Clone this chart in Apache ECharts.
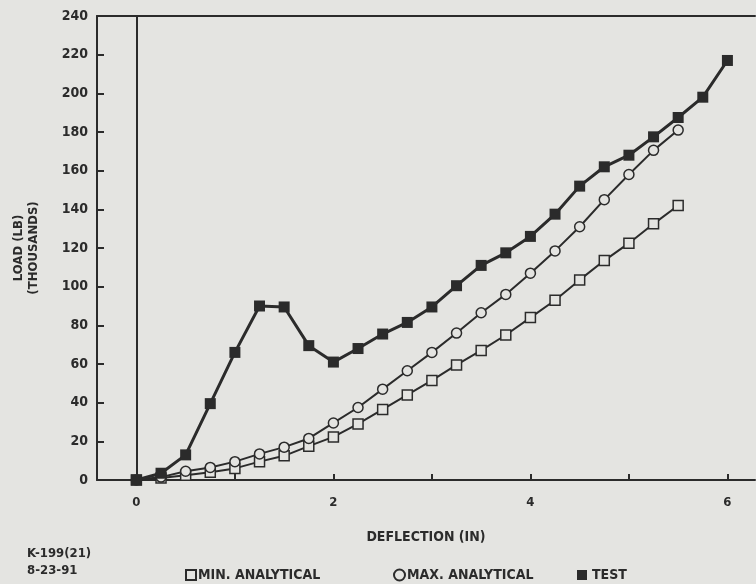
<!DOCTYPE html>
<html>
<head>
<meta charset="utf-8">
<script src="https://cdn.jsdelivr.net/npm/echarts@6/dist/echarts.min.js"></script>
<style>
  html, body { margin: 0; padding: 0; background: #e4e4e1; }
  #chart { width: 756px; height: 584px; }
</style>
</head>
<body>
<div id="chart"></div>
<script>
// deflection (in) and load (thousands of lb)
var deflection = [0, 0.25, 0.5, 0.75, 1, 1.25, 1.5, 1.75, 2, 2.25, 2.5, 2.75, 3,
                  3.25, 3.5, 3.75, 4, 4.25, 4.5, 4.75, 5, 5.25, 5.5, 5.75, 6];
var minAnalytical = [0, 1, 2.5, 4, 6, 9.5, 12.5, 17.5, 22.3, 29, 36.5, 44, 51.5,
                     59.5, 67, 75, 84, 93, 103.5, 113.5, 122.5, 132.5, 142];
var maxAnalytical = [0, 1.5, 4.5, 6.5, 9.5, 13.5, 17, 21.5, 29.5, 37.5, 47, 56.5, 66,
                     76, 86.5, 96, 107, 118.5, 131, 145, 158, 170.5, 181];
var test = [0, 3.5, 13, 39.5, 66, 90, 89.5, 69.5, 61, 68, 75.5, 81.5, 89.5,
            100.5, 111, 117.5, 126, 137.5, 152, 162, 168, 177.5, 187.5, 198, 217];
var xTicks = [0, 1, 2, 3, 4, 5, 6];
var xLabels = [0, 2, 4, 6];
var xMin = -0.4, xMax = 6.28;

var ink = '#2b2b2b';
var paper = '#e4e4e1';
var font = "'Liberation Sans Narrow', 'DejaVu Sans Condensed', sans-serif";

function pairs(ys) {
    return ys.map(function (y, i) { return [deflection[i], y]; });
}

var myChart = echarts.init(document.getElementById('chart'));
var option = {
    backgroundColor: paper,
    animation: false,
    textStyle: { fontFamily: font, fontWeight: 'bold', color: ink },
    grid: { left: 97, right: 1, top: 16, bottom: 104 },
    xAxis: [
        {
            type: 'value', min: xMin, max: xMax,
            name: 'DEFLECTION (IN)', nameLocation: 'middle', nameGap: 50,
            nameTextStyle: { fontFamily: font, fontWeight: 'bold', fontSize: 14, color: ink },
            axisLine: { onZero: false, lineStyle: { color: ink, width: 2 } },
            axisTick: { show: true, inside: true, length: 6, customValues: xTicks, lineStyle: { color: ink, width: 2 } },
            axisLabel: { customValues: xLabels, margin: 16, fontFamily: font, fontWeight: 'bold', fontSize: 13, color: ink },
            splitLine: { show: false }
        },
        {
            type: 'value', position: 'top', min: xMin, max: xMax,
            axisLine: { show: true, onZero: false, lineStyle: { color: ink, width: 2 } },
            axisTick: { show: false }, axisLabel: { show: false }, splitLine: { show: false }
        }
    ],
    yAxis: {
        type: 'value', min: 0, max: 240, interval: 20,
        name: 'LOAD (LB)\n(THOUSANDS)', nameLocation: 'middle', nameRotate: 90, nameGap: 56,
        nameTextStyle: { fontFamily: font, fontWeight: 'bold', fontSize: 13, lineHeight: 15, color: ink },
        axisLine: { show: true, onZero: false, lineStyle: { color: ink, width: 2 } },
        axisTick: { show: true, inside: true, length: 7, lineStyle: { color: ink, width: 2 } },
        axisLabel: { margin: 9, fontFamily: font, fontWeight: 'bold', fontSize: 14, color: ink },
        splitLine: { show: false }
    },
    legend: [
        {
            left: 180, top: 563, itemWidth: 10, itemHeight: 10,
            data: [{ name: 'MIN. ANALYTICAL', icon: 'rect' }],
            textStyle: { fontFamily: font, fontWeight: 'bold', fontSize: 14, color: ink, padding: [0, 0, 0, -3] }
        },
        {
            left: 388, top: 563, itemWidth: 11, itemHeight: 11,
            data: [{ name: 'MAX. ANALYTICAL', icon: 'circle' }],
            textStyle: { fontFamily: font, fontWeight: 'bold', fontSize: 14, color: ink, padding: [0, 0, 0, -3] }
        },
        {
            left: 572, top: 563, itemWidth: 10, itemHeight: 10,
            data: [{ name: 'TEST', icon: 'rect' }],
            textStyle: { fontFamily: font, fontWeight: 'bold', fontSize: 14, color: ink }
        }
    ],
    graphic: [
        { type: 'text', left: 27, top: 547, style: { text: 'K-199(21)', font: 'bold 13px ' + font, fill: ink } },
        { type: 'text', left: 27, top: 564, style: { text: '8-23-91', font: 'bold 13px ' + font, fill: ink } }
    ],
    series: [
        {
            name: 'MIN. ANALYTICAL', type: 'line', data: pairs(minAnalytical),
            symbol: 'rect', symbolSize: 10,
            lineStyle: { color: ink, width: 2 },
            itemStyle: { color: paper, borderColor: ink, borderWidth: 1.5 },
            markLine: {
                silent: true, symbol: 'none', label: { show: false },
                lineStyle: { color: ink, type: 'solid', width: 2 },
                data: [{ xAxis: 0 }]
            }
        },
        {
            name: 'MAX. ANALYTICAL', type: 'line', data: pairs(maxAnalytical),
            symbol: 'circle', symbolSize: 10,
            lineStyle: { color: ink, width: 2 },
            itemStyle: { color: paper, borderColor: ink, borderWidth: 1.5 }
        },
        {
            name: 'TEST', type: 'line', data: pairs(test),
            symbol: 'rect', symbolSize: 11,
            lineStyle: { color: ink, width: 3 },
            itemStyle: { color: ink }
        }
    ]
};
myChart.setOption(option);
</script>
</body>
</html>
